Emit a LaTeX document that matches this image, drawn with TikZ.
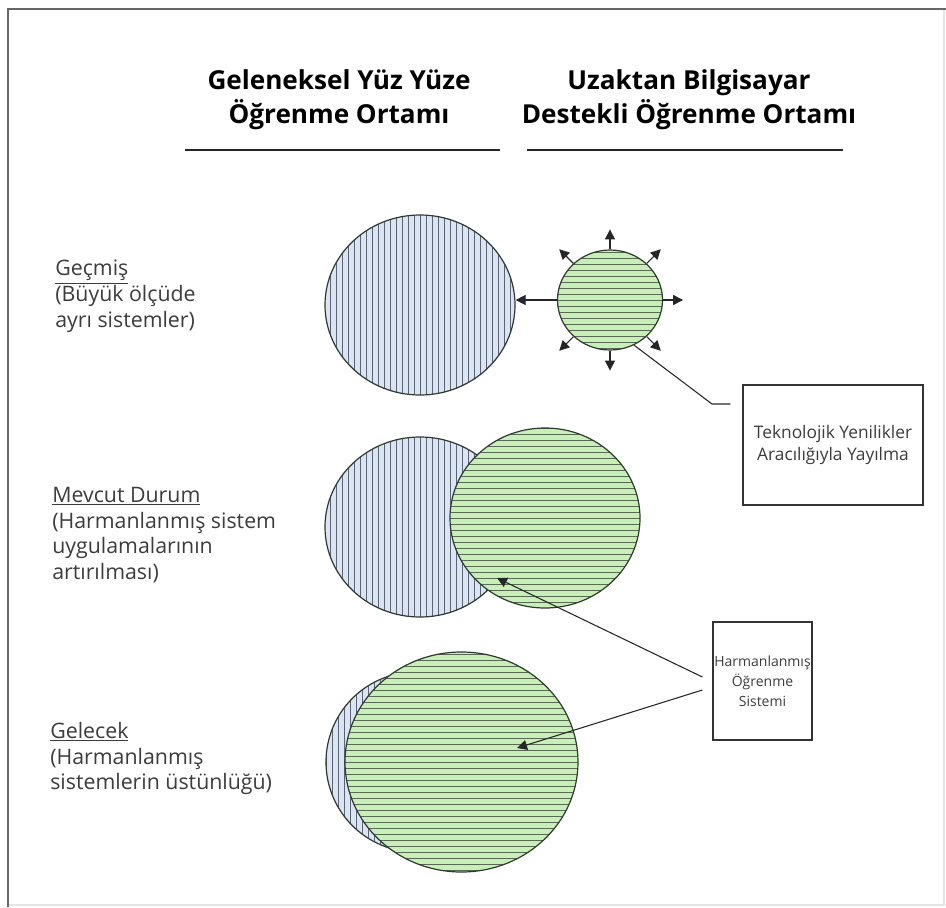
\documentclass[tikz,border=0pt]{standalone}
\usepackage{fontspec}
\setmainfont{Open Sans}
\usetikzlibrary{arrows.meta,shapes.geometric,calc}
\definecolor{bluefill}{HTML}{DAE4F2}
\definecolor{bluehatch}{HTML}{5A6474}
\definecolor{greenfill}{HTML}{C8EFB8}
\definecolor{greenhatch}{HTML}{586A54}
\definecolor{outline}{HTML}{2E3A30}
\definecolor{txt}{HTML}{3C3C3C}
\tikzset{
  bluec/.style={ellipse, draw=outline, line width=0.9pt, fill=bluefill, inner sep=0pt,
    minimum width=142.5pt, minimum height=135pt,
    path picture={\foreach \k in {-22,...,22}
      \draw[bluehatch, line width=0.6pt] ([xshift=\k*4.5pt]path picture bounding box.south) -- ([xshift=\k*4.5pt]path picture bounding box.north);}},
  greenc/.style={ellipse, draw=outline, line width=0.9pt, fill=greenfill, inner sep=0pt,
    minimum width=142.5pt, minimum height=135pt,
    path picture={\foreach \k in {-22,...,22}
      \draw[greenhatch, line width=0.6pt] ([yshift=\k*4.5pt]path picture bounding box.west) -- ([yshift=\k*4.5pt]path picture bounding box.east);}},
  head/.style={align=center, font=\bfseries\fontsize{19.6}{25.5}\selectfont, text=black},
  lbl/.style={align=left, anchor=north west, inner sep=0pt, text=txt, font=\fontsize{16}{19.3}\selectfont},
  boxn/.style={draw=black!80, line width=0.9pt, inner sep=0pt, align=center, text=txt},
  rule/.style={line width=2.2pt, black!85},
  arr/.style={-{Triangle[length=7.5pt,width=7.5pt]}, line width=0.8pt, black!85},
  conn/.style={line width=0.8pt, black!85}
}
\begin{document}
\begin{tikzpicture}[x=0.75pt,y=-0.75pt]
\useasboundingbox (0,0) rectangle (946,907);
% frame
\draw[black!10, line width=1pt] (944,9) -- (944,905) -- (8,905);
\draw[black!60, line width=1.5pt] (8,907) -- (8,9) -- (946,9);
% headings
\node[head] (h1) at (339,100) {Geleneksel Yüz Yüze\\Öğrenme Ortamı};
\node[head] (h2) at (689,100) {Uzaktan Bilgisayar\\Destekli Öğrenme Ortamı};
\draw[rule] (185,150) -- (500,150);
\draw[rule] (527,150) -- (843,150);
% labels
\node[lbl] (past) at (55,260) {\underline{Geçmiş}\\(Büyük ölçüde\\ayrı sistemler)};
\node[lbl] (now) at (52,487) {\underline{Mevcut Durum}\\(Harmanlanmış sistem\\uygulamalarının\\artırılması)};
\node[lbl] (fut) at (50,722) {\underline{Gelecek}\\(Harmanlanmış\\sistemlerin üstünlüğü)};
% past
\node[bluec] (p1) at (420,305) {};
\node[greenc, minimum width=78.75pt, minimum height=75pt] (s) at (610,300) {};
\draw[arr] (s.west) -- (s.west -| p1.east);
\foreach \a in {90,45,0,-45,-90,-135,135}
  \draw[arr] (s.\a) -- ++(\a:15pt);
% technology box
\node[boxn, minimum width=135pt, minimum height=90pt, font=\fontsize{13}{17}\selectfont] (tbox) at (833,445) {Teknolojik Yenilikler\\Aracılığıyla Yayılma};
\coordinate (tb) at (712,404);
\draw[conn, shorten >=9pt] (s.-62) -- (tb) -- (tb -| tbox.west);
% present
\node[bluec] (m1) at (420,527) {};
\node[greenc] (m2) at (545,518) {};
% future
\node[bluec, minimum width=135pt] (f1) at (416,762) {};
\node[greenc, minimum width=174.75pt, minimum height=165pt] (f2) at (461.5,762) {};
% blended box
\node[boxn, minimum width=74.25pt, minimum height=88.5pt, font=\fontsize{10.5}{15}\selectfont] (hbox) at (762.5,681) {Harmanlanmış\\Öğrenme\\Sistemi};
\coordinate (t1) at (497,578);
\coordinate (t2) at (517,748);
\draw[arr] ([xshift=-7.5pt,yshift=3pt]hbox.west) -- (t1);
\draw[arr] ([xshift=-7.5pt,yshift=-6.75pt]hbox.west) -- (t2);
\end{tikzpicture}
\end{document}
